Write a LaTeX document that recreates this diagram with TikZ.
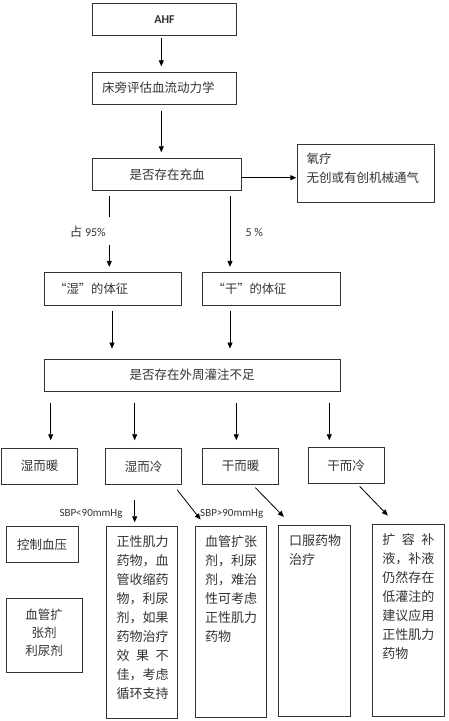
\documentclass[tikz,border=0pt]{standalone}
\usepackage{fontspec}
\setmainfont{Carlito}
\newfontfamily\cjk{Noto Sans CJK SC}
\newfontfamily\lat{Carlito}
\usetikzlibrary{arrows.meta}
\definecolor{boxc}{HTML}{333333}
\definecolor{txtc}{HTML}{333333}
\newcommand\qlx{\makebox[1em][r]{“}}
\newcommand\qrx{\makebox[1em][l]{”}}
\newcommand\tallbox[5]{\parbox[c][#2][t]{#1}{\vspace*{#3}\raggedright\leftskip=#4\relax #5\par}}
\newcommand\spreadline[1]{\makebox[4em][s]{#1}}
\tikzset{
  bx/.style={draw=boxc, line width=0.9pt, inner sep=0pt, text=txtc,
    font=\cjk\fontsize{12.5}{18.7}\selectfont},
  tallfont/.style={font=\cjk\fontsize{13}{19}\selectfont},
  arr/.style={draw=black, line width=0.8pt, -{Triangle[length=6pt,width=5pt]}},
  ln/.style={draw=black, line width=0.8pt},
  lat/.style={font=\lat\fontsize{11}{13}\selectfont, text=txtc, inner sep=0pt},
  pct/.style={font=\lat\fontsize{12}{14}\selectfont, text=txtc, inner sep=0pt}
}
\begin{document}
\begin{tikzpicture}[x=1pt,y=-1pt]
\useasboundingbox[fill=white] (0,0) rectangle (449,721);

% top chain
\node[bx, minimum width=143.6pt, minimum height=31.6pt, font=\lat\bfseries\fontsize{12}{14}\selectfont] (ahf) at (164.5,19.5) {AHF};
\node[bx, minimum height=32.3pt, text width=124.6pt, inner xsep=9.5pt, align=left] (bed) at (164.5,88.2) {床旁评估血流动力学};
\node[bx, minimum width=148.6pt, minimum height=32pt] (cong) at (167,174.3) {是否存在充血};
\node[bx] (oxy) at (366,173.35) {\tallbox{137.4pt}{58.7pt}{9pt}{9.4pt}{氧疗\\无创或有创机械通气}};

% wet / dry
\node[bx, minimum height=32.3pt, text width=117.4pt, inner xsep=10pt, align=left, font=\cjk\fontsize{12.3}{15}\selectfont] (wet) at (113,288.85) {\qlx 湿\qrx 的体征};
\node[bx, minimum height=32.3pt, text width=117.3pt, inner xsep=10pt, align=left, font=\cjk\fontsize{12.3}{15}\selectfont] (dry) at (271.35,288.85) {\qlx 干\qrx 的体征};

\node[bx, minimum width=295.7pt, minimum height=32.3pt] (peri) at (192.15,375.15) {是否存在外周灌注不足};

% four profiles
\node[bx, minimum width=76pt, minimum height=36pt] (ww) at (39.7,466.3) {湿而暖};
\node[bx, minimum width=76.4pt, minimum height=36pt] (wc) at (143.5,466.3) {湿而冷};
\node[bx, minimum width=76pt, minimum height=36pt] (dw) at (240.7,466.3) {干而暖};
\node[bx, minimum width=76pt, minimum height=36pt] (dc) at (346,465.3) {干而冷};

% treatments
\node[bx, minimum width=72.3pt, minimum height=36.7pt] (ctrl) at (42.15,544.35) {控制血压};
\node[bx] (vaso) at (44.15,635.5) {\parbox[c][74.4pt][t]{76.3pt}{\vspace*{10.5pt}\fontsize{12.5}{18}\selectfont\centering 血管扩\\张剂\\利尿剂\par}};
\node[bx, tallfont] (inot) at (142.2,622.15) {\tallbox{71pt}{192.3pt}{9.5pt}{10pt}{正性肌力\\药物，血\\管收缩药\\物，利尿\\剂，如果\\药物治疗\\\spreadline{效\hfill 果\hfill 不}\\佳，考虑\\循环支持}};
\node[bx, tallfont] (vd) at (230.5,621.65) {\tallbox{71pt}{191.3pt}{9.5pt}{10pt}{血管扩张\\剂，利尿\\剂，难治\\性可考虑\\正性肌力\\药物}};
\node[bx, tallfont] (oral) at (314.35,620.5) {\tallbox{71.3pt}{191pt}{10pt}{10.5pt}{口服药物\\治疗}};
\node[bx, tallfont] (exp) at (408.3,620) {\tallbox{72pt}{192pt}{9pt}{10pt}{\spreadline{扩\hfill 容\hfill 补}\\液，补液\\仍然存在\\低灌注的\\建议应用\\正性肌力\\药物}};

% labels
\node[pct, anchor=east] (p95) at (106,232) {{\cjk\fontsize{12.5}{14}\selectfont 占} 95\%};
\node[pct, anchor=west] (p5) at (245.5,232) {5 \%};
\node[lat] (sbp1) at (91,514) {SBP<90mmHg};
\node[lat] (sbp2) at (231.7,514) {SBP>90mmHg};

% helper coordinates
\coordinate (l1) at (109.3,216.7);
\coordinate (l2) at (109.3,245);
\coordinate (r1) at (230,230);

% connectors
\draw[arr, shorten <=2.7pt, shorten >=5.3pt] ([xshift=-3.2pt]ahf.south) -- ([xshift=-3.2pt]bed.north);
\draw[arr, shorten <=5.7pt, shorten >=5.6pt] ([xshift=-3.2pt]bed.south) -- ([xshift=-3.2pt]bed.south |- cong.north);
\draw[arr, shorten >=0.6pt] ([yshift=-3.4pt]cong.east) -- ([yshift=-3.4pt]cong.east -| oxy.west);

\draw[ln, shorten <=5.7pt] (cong.south -| l1) -- (l1);
\draw[arr, shorten >=5.4pt] (l2) -- (l2 |- wet.north);
\draw[arr, shorten <=5.7pt, shorten >=5.4pt] (cong.south -| r1) -- (r1 |- dry.north);

\draw[arr, shorten <=5.7pt, shorten >=10pt] ([xshift=-1pt]wet.south) -- ([xshift=-1pt]wet.south |- peri.north);
\draw[arr, shorten <=5.7pt, shorten >=10pt] (r1 |- dry.south) -- (r1 |- peri.north);

\draw[arr, shorten <=11pt, shorten >=7.6pt] ([xshift=11pt]ww.north |- peri.south) -- ([xshift=11pt]ww.north);
\draw[arr, shorten <=11pt, shorten >=7.6pt] ([xshift=-8.8pt]wc.north |- peri.south) -- ([xshift=-8.8pt]wc.north);
\draw[arr, shorten <=11pt, shorten >=7.6pt] ([xshift=-4.4pt]dw.north |- peri.south) -- ([xshift=-4.4pt]dw.north);
\draw[arr, shorten <=11pt, shorten >=6.6pt] ([xshift=-16.7pt]dc.north |- peri.south) -- ([xshift=-16.7pt]dc.north);

\draw[arr, shorten <=15pt, shorten >=3.3pt] ([xshift=-8.8pt]wc.south) -- ([xshift=-8.8pt]wc.south |- inot.north);
\draw[arr] ([xshift=-5pt,yshift=-5pt]wc.south east) -- ([xshift=6pt,yshift=6pt]vd.north west);
\draw[arr] ([xshift=-23.7pt,yshift=-3pt]dw.south east) -- ([xshift=5.6pt,yshift=7.7pt]oral.north west);
\draw[arr] ([xshift=-24.7pt,yshift=-2.7pt]dc.south east) -- ([xshift=16pt,yshift=8pt]exp.north west);
\end{tikzpicture}
\end{document}
